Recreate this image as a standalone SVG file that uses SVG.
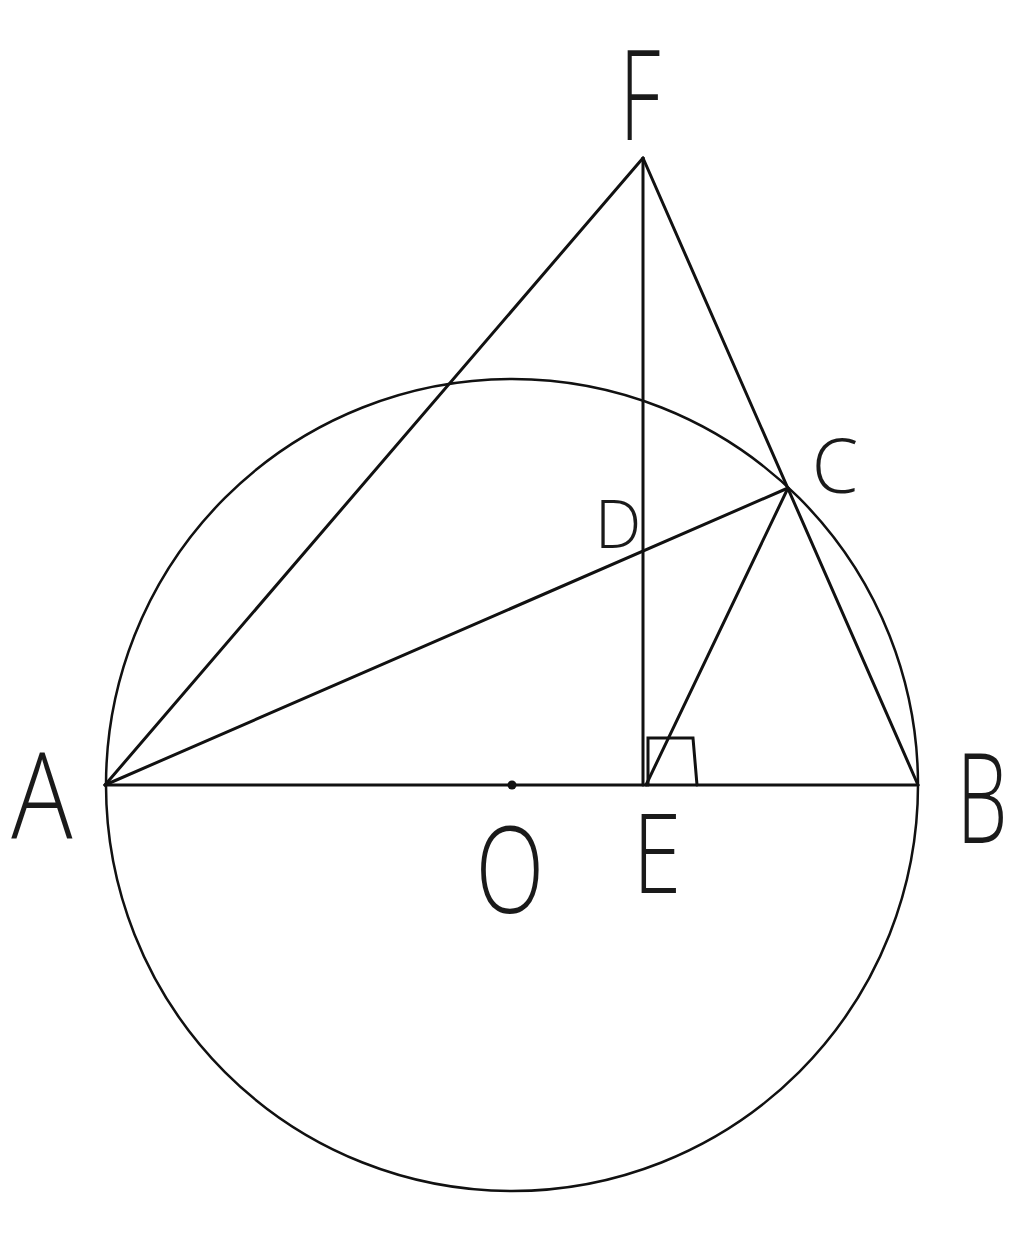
<svg xmlns="http://www.w3.org/2000/svg" width="1024" height="1235" viewBox="0 0 1024 1235">
<style>
.ln{stroke:#111;stroke-width:3;fill:none;stroke-linecap:round}
.lb{font-family:"Open Sans","Liberation Sans",sans-serif;font-weight:300;fill:#1a1a1a;text-anchor:middle}
</style>
<rect width="1024" height="1235" fill="#fff"/>
<g id="circle"><circle cx="512" cy="785" r="406" fill="none" stroke="#111" stroke-width="2.5"/></g>
<g id="connectors">
<line class="ln" x1="105" y1="785" x2="918" y2="785"/>
<line class="ln" x1="105" y1="785" x2="643" y2="158"/>
<line class="ln" x1="643" y1="158" x2="643" y2="785"/>
<line class="ln" x1="643" y1="158" x2="918" y2="785"/>
<line class="ln" x1="105" y1="785" x2="788" y2="488"/>
<line class="ln" x1="788" y1="488" x2="646" y2="785"/>
<polyline class="ln" points="648,785 648,738 693,738 697,785" stroke-width="2.5"/>
</g>
<g id="O"><circle cx="512" cy="785" r="4.5" fill="#111"/><text class="lb" x="510" y="913" font-size="120" transform="translate(510 0) scale(0.75 1) translate(-510 0)">O</text></g>
<g id="F"><text class="lb" x="640" y="140" font-size="125" transform="translate(640 0) scale(0.65 1) translate(-640 0)">F</text></g>
<g id="C"><text class="lb" x="835" y="493" font-size="75">C</text></g>
<g id="D"><text class="lb" x="618" y="548" font-size="66">D</text></g>
<g id="A"><text class="lb" x="42" y="838" font-size="120" transform="translate(42 0) scale(0.85 1) translate(-42 0)">A</text></g>
<g id="B"><text class="lb" x="982" y="843" font-size="125" transform="translate(982 0) scale(0.65 1) translate(-982 0)">B</text></g>
<g id="E"><text class="lb" x="657" y="893" font-size="110" transform="translate(657 0) scale(0.8 1) translate(-657 0)">E</text></g>
</svg>
